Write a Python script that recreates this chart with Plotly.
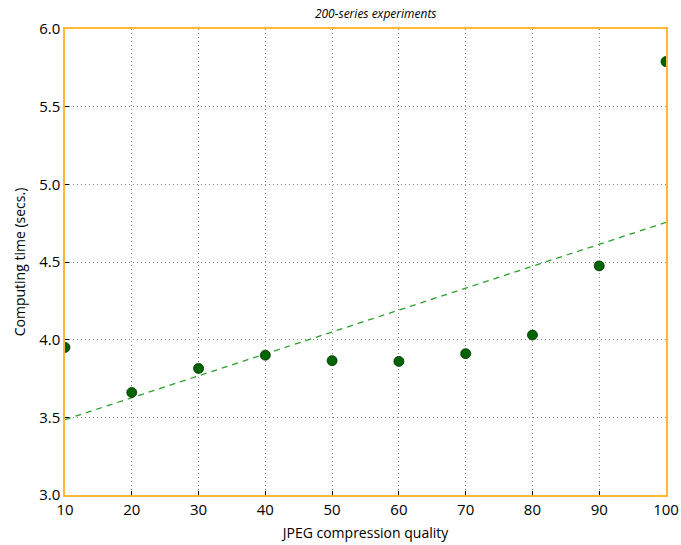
import plotly.graph_objects as go

quality = [10, 20, 30, 40, 50, 60, 70, 80, 90, 100]
comp_time = [3.95, 3.66, 3.815, 3.90, 3.865, 3.86, 3.91, 4.03, 4.475, 5.79]
trend_x = [10, 100]
trend_y = [3.485, 4.755]
x_ticks = [10, 20, 30, 40, 50, 60, 70, 80, 90, 100]
y_ticks = [3.0, 3.5, 4.0, 4.5, 5.0, 5.5, 6.0]

FONT = "Open Sans"
W, H = 681, 545

fig = go.Figure()
fig.add_trace(go.Scatter(
    x=trend_x, y=trend_y, mode="lines",
    line=dict(color="#2ca02c", width=1.3, dash="6px,5px"),
    showlegend=False, hoverinfo="skip",
))
fig.add_trace(go.Scatter(
    x=quality, y=comp_time, mode="markers",
    marker=dict(size=10, color="#006400", line=dict(color="#003300", width=0.8)),
    showlegend=False, cliponaxis=True,
))

axis_common = dict(
    showline=True, linecolor="#FFB833", linewidth=1.5, mirror=True,
    showgrid=True, gridcolor="#888888", griddash="1px,3px", gridwidth=1,
    ticks="inside", ticklen=4, tickcolor="#000000", tickwidth=1,
    zeroline=False, automargin=False,
    tickfont=dict(family=FONT, size=15, color="#000000"),
)

fig.update_layout(
    width=W, height=H,
    margin=dict(l=65, r=15, t=29, b=50),
    paper_bgcolor="white", plot_bgcolor="white",
    title=dict(text="<i>200-series experiments</i>", x=0.517, xanchor="center",
               xref="paper", y=1 - 14 / H, yanchor="middle", automargin=False,
               font=dict(family=FONT, size=12, color="#000000")),
    xaxis=dict(range=[10, 100], tickvals=x_ticks, ticktext=[str(v) for v in x_ticks],
               title=dict(text="JPEG compression quality", standoff=10,
                          font=dict(family=FONT, size=14, color="#000000")),
               **axis_common),
    yaxis=dict(range=[3.0, 6.0], tickvals=y_ticks, ticktext=[f"{v:.1f}" for v in y_ticks],
               title=dict(text="Computing time (secs.)", standoff=10,
                          font=dict(family=FONT, size=14, color="#000000")),
               **axis_common),
)

fig.write_html(
    "out.html",
    config={"displayModeBar": False},
    post_script="document.body.style.margin='0';document.body.style.overflow='hidden';",
)
